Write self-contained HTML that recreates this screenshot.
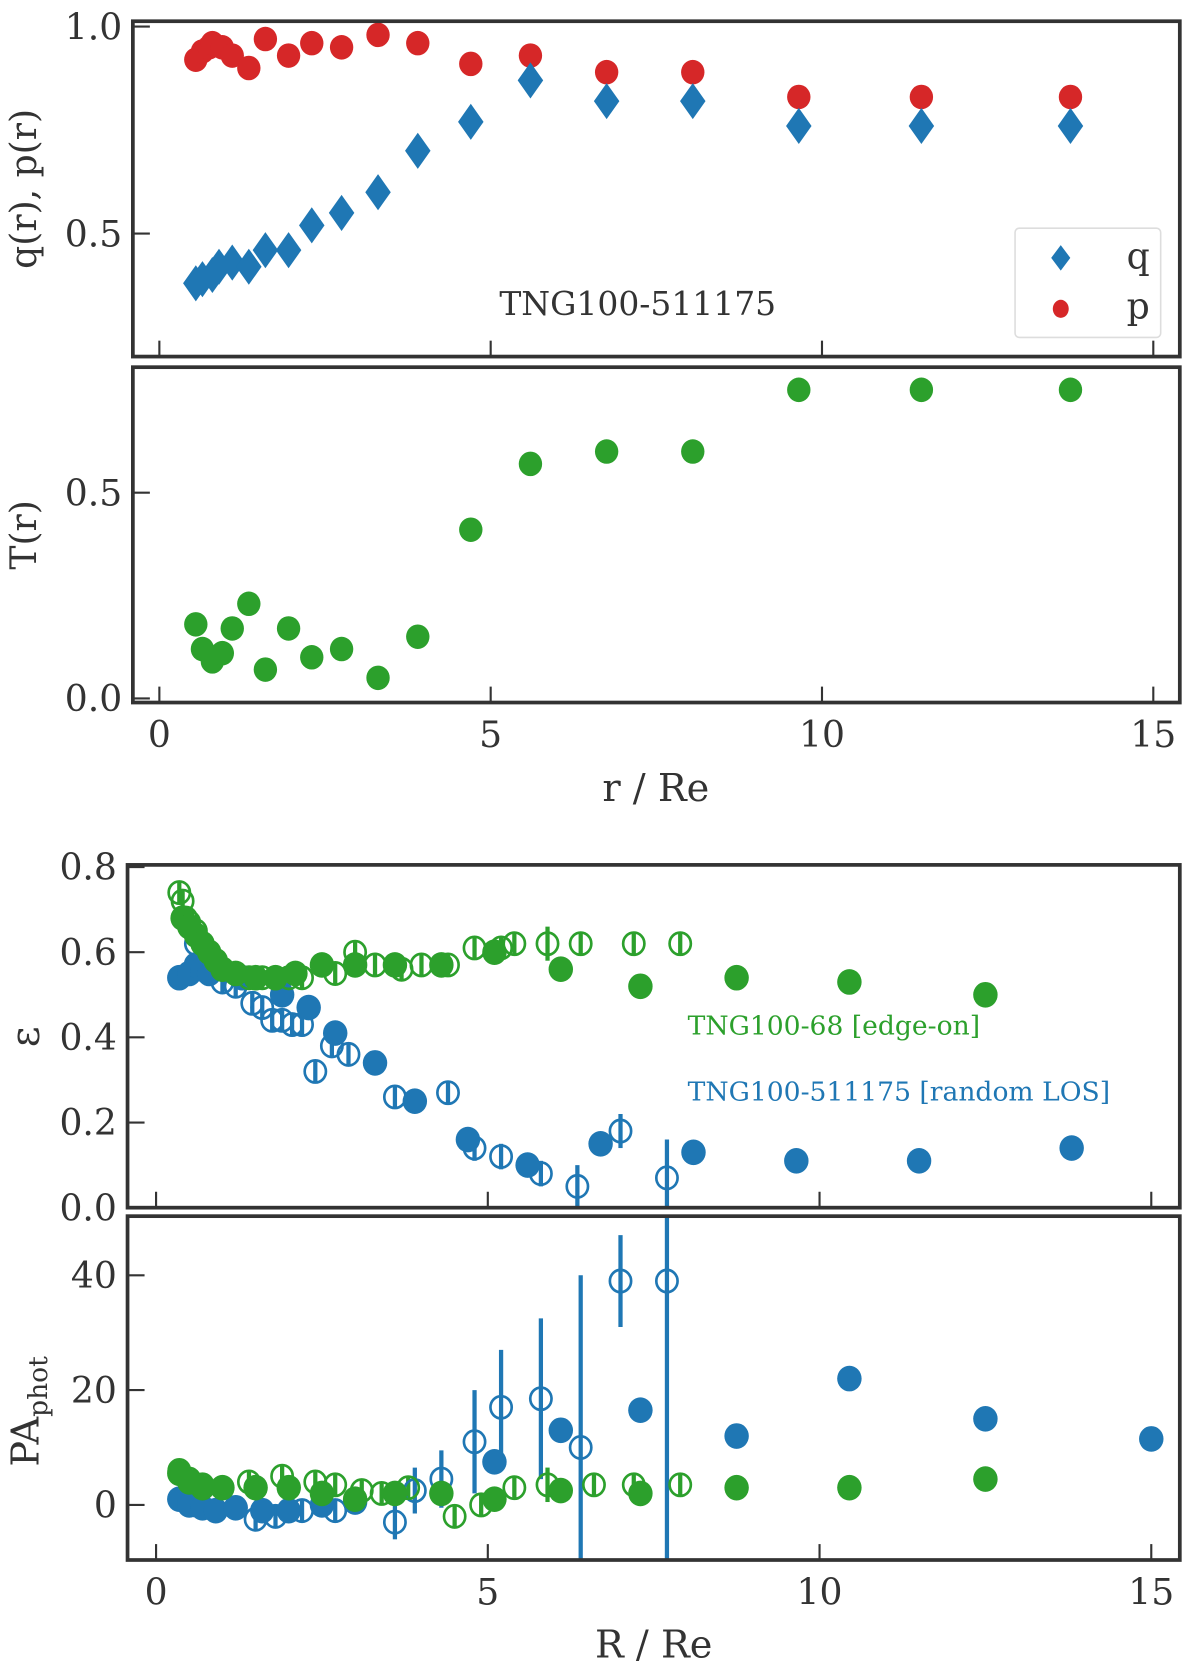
<!DOCTYPE html>
<html><head><meta charset="utf-8"><style>
html,body{margin:0;padding:0;background:#fff}
svg{display:block}
text{font-family:"DejaVu Serif","Liberation Serif",serif;fill:#333}
</style></head><body>
<svg id="fig" width="1200" height="1664" viewBox="0 0 1129 1568" preserveAspectRatio="none" xmlns="http://www.w3.org/2000/svg"></svg>
<script>
// ---- Panel 1 data: q(r), p(r)
const rShape = [0.55,0.65,0.8,0.9,1.1,1.35,1.6,1.95,2.3,2.75,3.3,3.9,4.7,5.6,6.75,8.05,9.65,11.5,13.75];
const qVals  = [0.38,0.39,0.40,0.42,0.43,0.42,0.46,0.46,0.52,0.55,0.60,0.70,0.77,0.87,0.82,0.82,0.76,0.76,0.76];
const rP     = [0.55,0.65,0.75,0.8,0.95,1.1,1.35,1.6,1.95,2.3,2.75,3.3,3.9,4.7,5.6,6.75,8.05,9.65,11.5,13.75];
const pVals  = [0.92,0.94,0.95,0.96,0.95,0.93,0.90,0.97,0.93,0.96,0.95,0.98,0.96,0.91,0.93,0.89,0.89,0.83,0.83,0.83];
// ---- Panel 2: T(r)
const rT = [0.55,0.65,0.8,0.95,1.1,1.35,1.6,1.95,2.3,2.75,3.3,3.9,4.7,5.6,6.75,8.05,9.65,11.5,13.75];
const tVals = [0.18,0.12,0.09,0.11,0.17,0.23,0.07,0.17,0.10,0.12,0.05,0.15,0.41,0.57,0.60,0.60,0.75,0.75,0.75];
// ---- Panel 3: ellipticity
const gFillR = [0.4,0.5,0.6,0.7,0.8,0.9,1.0,1.2,1.5,1.8,2.1,2.5,3.0,3.6,4.3,5.1,6.1,7.3,8.75,10.45,12.5];
const gFillE = [0.68,0.66,0.64,0.62,0.60,0.58,0.56,0.55,0.54,0.54,0.55,0.57,0.57,0.57,0.57,0.60,0.56,0.52,0.54,0.53,0.50];
const gOpenR = [0.35,0.4,0.45,0.5,0.6,0.7,0.8,0.9,1.0,1.2,1.4,1.6,1.8,2.0,2.2,2.7,3.0,3.3,3.7,4.0,4.4,4.8,5.2,5.4,5.9,6.4,7.2,7.9];
const gOpenE = [0.74,0.72,0.68,0.67,0.65,0.62,0.60,0.58,0.56,0.55,0.54,0.54,0.54,0.54,0.54,0.55,0.60,0.57,0.56,0.57,0.57,0.61,0.61,0.62,0.62,0.62,0.62,0.62];
const gOpenErr=[0.01,0.01,0.01,0.01,0.01,0.01,0.01,0.01,0.01,0.01,0.01,0.01,0.01,0.01,0.01,0.02,0.01,0.01,0.01,0.01,0.01,0.02,0.02,0.02,0.04,0,0,0];
const bFillR = [0.35,0.5,0.6,0.7,0.8,1.3,1.9,2.3,2.7,3.3,3.9,4.7,5.6,6.7,8.1,9.65,11.5,13.8];
const bFillE = [0.54,0.55,0.57,0.56,0.55,0.54,0.50,0.47,0.41,0.34,0.25,0.16,0.10,0.15,0.13,0.11,0.11,0.14];
const bOpenR = [0.6,0.8,1.0,1.2,1.45,1.6,1.75,1.9,2.05,2.2,2.4,2.65,2.9,3.6,4.4,4.8,5.2,5.8,6.35,7.0,7.7];
const bOpenE = [0.62,0.58,0.53,0.52,0.48,0.47,0.44,0.44,0.43,0.43,0.32,0.38,0.36,0.26,0.27,0.14,0.12,0.08,0.05,0.18,0.07];
const bOpenErr=[0.01,0.01,0.01,0.01,0.01,0.01,0.01,0.01,0.01,0.01,0.02,0.02,0.02,0.02,0.02,0.03,0.03,0.03,0.05,0.04,0.09];
// ---- Panel 4: PA
const pbFillR = [0.35,0.5,0.7,0.9,1.2,1.6,2.0,2.5,3.0,5.1,6.1,7.3,8.75,10.45,12.5,15.0];
const pbFillV = [1,0,-0.5,-1,-0.5,-1,-1,0,0.5,7.5,13,16.5,12,22,15,11.5];
const pgFillR = [0.35,0.5,0.7,1.0,1.5,2.0,2.5,3.0,3.6,4.3,5.1,6.1,7.3,8.75,10.45,12.5];
const pgFillV = [5.5,4,3,3,3,3,2,1,2,2,1,2.5,2,3,3,4.5];
const pgOpenR = [0.35,0.5,0.7,1.0,1.4,1.9,2.4,2.7,3.1,3.4,3.8,4.5,4.9,5.4,5.9,6.6,7.2,7.9];
const pgOpenV = [6,4.5,3.5,3,4,5,4,3.5,2.5,2,3,-2,0,3,3.5,3.5,3.5,3.5];
const pgOpenErr=[1,1,1,1,1,1.5,1,1,1,1,1,1,1,1,3,0,0,0];
const pbOpenR = [0.6,0.9,1.2,1.5,1.8,2.2,2.7,3.6,3.9,4.3,4.8,5.2,5.8,6.4,7.0,7.7];
const pbOpenV = [0,-1,-0.5,-2.5,-2,-1,-1,-3,2.5,4.5,11,17,18.5,10,39,39];
const pbOpenErr=[1,1,1,1,1,1,1,3,4,5,9,10,14,30,8,50];

const xTicks = [0,5,10,15];
const C = {b:'#1f77b4', g:'#2ca02c', r:'#d62728'};
const svg = document.getElementById('fig');
const NS = 'http://www.w3.org/2000/svg';
function mk(tag, attrs, parent){ const e=document.createElementNS(NS,tag); for(const k in attrs) e.setAttribute(k,attrs[k]); (parent||svg).appendChild(e); return e; }
function txt(s, x, y, size, attrs, parent){ const t=mk('text',Object.assign({x:x,y:y,'font-size':size},attrs||{}),parent); t.textContent=s; return t; }

function panel(name, L,R,T,B, x0,x1, y0,y1){
  const g = mk('g',{});
  
  
  return {g, L,R,T,B, sx:v=>L+(v-x0)/(x1-x0)*(R-L), sy:v=>B-(v-y0)/(y1-y0)*(B-T)};
}
function frame(p, yTicks, yLab, showXLab){
  const fr = mk('rect',{x:p.L,y:p.T,width:p.R-p.L,height:p.B-p.T,fill:'none',stroke:'#333','stroke-width':3.5},p.g);
  
  
  xTicks.forEach(v=>{ const x=p.sx(v); mk('line',{x1:x,x2:x,y1:p.B,y2:p.B-15,stroke:'#333','stroke-width':2},p.g);
    if(showXLab){ const t=txt(String(v),x,p.B+42,34,{'text-anchor':'middle'},p.g);   }});
  yTicks.forEach(v=>{ const y=p.sy(v); mk('line',{x1:p.L,x2:p.L+16,y1:y,y2:y,stroke:'#333','stroke-width':2},p.g);
    const t=txt(yLab(v),p.L-10,y+12,34,{'text-anchor':'end'},p.g);   });
}
function circ(p,xs,ys,col,filled,r,name){
  xs.forEach((x,i)=>{ const c=mk('ellipse',{cx:p.sx(x),cy:p.sy(ys[i]),rx:r,ry:r*1.05,fill:filled?col:'none',stroke:col,'stroke-width':filled?0:2.5},p.g);
      });
}
function errs(p,xs,ys,es,col){
  xs.forEach((x,i)=>{ const X=p.sx(x), Y=p.sy(ys[i]);
    const bot=Math.min(Math.max(p.sy(ys[i]-es[i]), Y+10), p.B);
    const top=Math.max(Math.min(p.sy(ys[i]+es[i]), Y-10), p.T);
    const l=mk('line',{x1:X,x2:X,y1:bot,y2:top,stroke:col,'stroke-width':4},p.g);
      });
}

// Panel 1
const p1 = panel('shape-panel',125,1110,20,336,-0.4,15.4,0.203,1.013);
circ(p1,rP,pVals,C.r,true,11,'p-point');
rShape.forEach((x,i)=>{ const X=p1.sx(x),Y=p1.sy(qVals[i]);
  const d=mk('polygon',{points:`${X},${Y-17} ${X+12},${Y} ${X},${Y+17} ${X-12},${Y}`,fill:C.b},p1.g);
    });
frame(p1,[0.5,1.0],v=>v.toFixed(1),false);
txt('q(r), p(r)',34,178,34,{transform:'rotate(-90 34 178)','text-anchor':'middle'});
txt('TNG100-511175',600,297,31,{'text-anchor':'middle'});
const lg = mk('g',{});  
mk('rect',{x:955,y:215,width:137,height:103,rx:4,fill:'#fff',stroke:'#ddd','stroke-width':1.5},lg);
mk('polygon',{points:'998,231 1007,243 998,255 989,243',fill:C.b},lg);
txt('q',1060,253,34,{},lg);
mk('ellipse',{cx:998,cy:291,rx:7.5,ry:8.5,fill:C.r},lg);
txt('p',1060,300,34,{},lg);

// Panel 2
const p2 = panel('triaxiality-panel',125,1110,346,662,-0.4,15.4,-0.01,0.805);
circ(p2,rT,tVals,C.g,true,11,'t-point');
frame(p2,[0.0,0.5],v=>v.toFixed(1),true);
txt('T(r)',34,504,34,{transform:'rotate(-90 34 504)','text-anchor':'middle'});
txt('r / Re',617,755,36,{'text-anchor':'middle'});

// Panel 3
const p3 = panel('ellipticity-panel',120,1110,815,1138,-0.43,15.43,0,0.805);
errs(p3,gOpenR,gOpenE,gOpenErr,C.g); errs(p3,bOpenR,bOpenE,bOpenErr,C.b);
circ(p3,bOpenR,bOpenE,C.b,false,10,'eps-blue-open');
circ(p3,bFillR,bFillE,C.b,true,11.5,'eps-blue-filled');
circ(p3,gOpenR,gOpenE,C.g,false,10,'eps-green-open');
circ(p3,gFillR,gFillE,C.g,true,11.5,'eps-green-filled');
frame(p3,[0,0.2,0.4,0.6,0.8],v=>v.toFixed(1),false);
txt('ε',36,977,38,{transform:'rotate(-90 36 977)','text-anchor':'middle'});
txt('TNG100-68 [edge-on]',647,975,25,{style:'fill:'+C.g});
txt('TNG100-511175 [random LOS]',647,1037,25,{style:'fill:'+C.b});

// Panel 4
const p4 = panel('position-angle-panel',120,1110,1146,1470,-0.43,15.43,-9.6,50.3);
errs(p4,pgOpenR,pgOpenV,pgOpenErr,C.g); errs(p4,pbOpenR,pbOpenV,pbOpenErr,C.b);
circ(p4,pbOpenR,pbOpenV,C.b,false,10,'pa-blue-open');
circ(p4,pbFillR,pbFillV,C.b,true,11.5,'pa-blue-filled');
circ(p4,pgOpenR,pgOpenV,C.g,false,10,'pa-green-open');
circ(p4,pgFillR,pgFillV,C.g,true,11.5,'pa-green-filled');
frame(p4,[0,20,40],v=>String(v),true);
const yt=txt('PA',36,1330,36,{transform:'rotate(-90 36 1330)','text-anchor':'middle'}); 
const ts=mk('tspan',{'font-size':25,dy:8},yt); ts.textContent='phot';
txt('R / Re',615,1562,36,{'text-anchor':'middle'});
</script>
</body></html>
